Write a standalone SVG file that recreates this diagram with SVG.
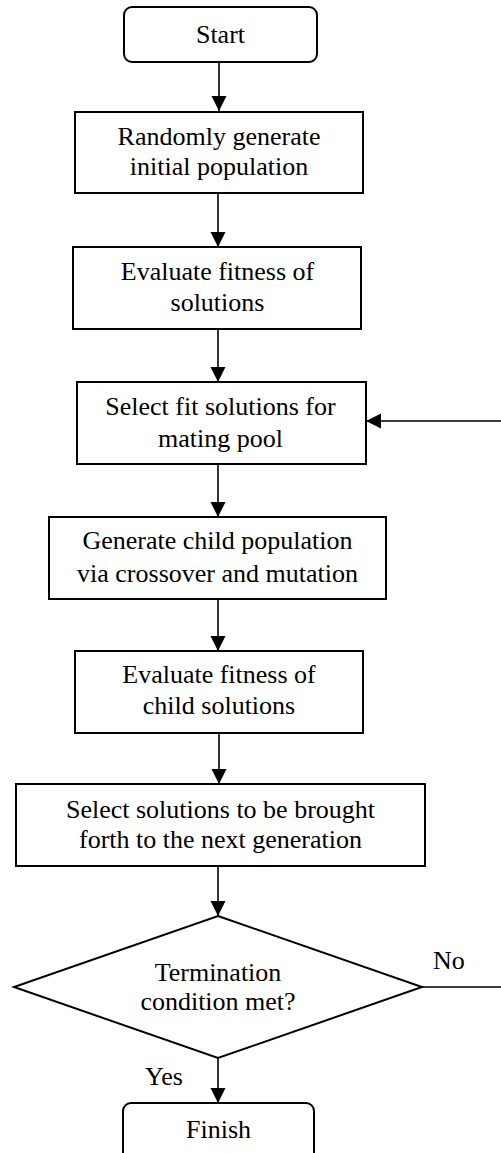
<svg xmlns="http://www.w3.org/2000/svg" width="501" height="1153" viewBox="0 0 501 1153">
  <style>
    .box { fill: #ffffff; stroke: #000000; stroke-width: 2; }
    .lbl { font-family: 'Liberation Serif', 'DejaVu Serif', serif; font-size: 26px; fill: #000000; text-anchor: middle; }
    .tag { font-family: 'Liberation Serif', 'DejaVu Serif', serif; font-size: 26px; fill: #000000; }
    .edge { fill: none; stroke: #000000; stroke-width: 1.6; }
  </style>
  <defs>
    <marker id="arrow" markerUnits="userSpaceOnUse" markerWidth="16" markerHeight="16" refX="15" refY="7.5" orient="auto">
      <path d="M0,0 L15,7.5 L0,15 z" fill="#000000"/>
    </marker>
  </defs>
  <rect width="501" height="1153" fill="#ffffff"/>

  <!-- connectors -->
  <g id="connectors">
    <line class="edge" x1="219" y1="62" x2="219" y2="111" marker-end="url(#arrow)"/>
    <line class="edge" x1="218" y1="193" x2="218" y2="247" marker-end="url(#arrow)"/>
    <line class="edge" x1="218" y1="329" x2="218" y2="382" marker-end="url(#arrow)"/>
    <line class="edge" x1="218" y1="464" x2="218" y2="517" marker-end="url(#arrow)"/>
    <line class="edge" x1="218" y1="599" x2="218" y2="651" marker-end="url(#arrow)"/>
    <line class="edge" x1="219" y1="733" x2="219" y2="784" marker-end="url(#arrow)"/>
    <line class="edge" x1="218" y1="866" x2="218" y2="916" marker-end="url(#arrow)"/>
    <line class="edge" x1="218" y1="1058" x2="218" y2="1103" marker-end="url(#arrow)"/>
    <!-- "No" loop back to the selection step (runs past the right edge) -->
    <polyline class="edge" points="422,987 512,987 512,421 366,421" marker-end="url(#arrow)"/>
    <text class="tag" x="433" y="969" font-family="Liberation Serif">No</text>
    <text class="tag" x="145" y="1085" font-family="Liberation Serif">Yes</text>
  </g>

  <g id="start">
    <rect class="box" x="124" y="7" width="193" height="55" rx="8" ry="8"/>
    <text class="lbl" x="220.5" y="43">Start</text>
  </g>

  <g id="init-population">
    <rect class="box" x="75" y="112" width="288" height="81"/>
    <text class="lbl" x="219" y="145">Randomly generate</text>
    <text class="lbl" x="219" y="175">initial population</text>
  </g>

  <g id="evaluate-fitness">
    <rect class="box" x="73" y="247" width="288" height="82"/>
    <text class="lbl" x="217.5" y="280">Evaluate fitness of</text>
    <text class="lbl" x="217.5" y="311">solutions</text>
  </g>

  <g id="select-mating">
    <rect class="box" x="77" y="382" width="289" height="82"/>
    <text class="lbl" x="220.5" y="415">Select fit solutions for</text>
    <text class="lbl" x="220.5" y="447">mating pool</text>
  </g>

  <g id="generate-children">
    <rect class="box" x="49" y="517" width="337" height="82"/>
    <text class="lbl" x="217.5" y="549">Generate child population</text>
    <text class="lbl" x="217.5" y="582">via crossover and mutation</text>
  </g>

  <g id="evaluate-children">
    <rect class="box" x="75" y="651" width="288" height="82"/>
    <text class="lbl" x="219" y="683">Evaluate fitness of</text>
    <text class="lbl" x="219" y="714">child solutions</text>
  </g>

  <g id="select-next-gen">
    <rect class="box" x="16" y="784" width="409" height="82"/>
    <text class="lbl" x="220.5" y="818">Select solutions to be brought</text>
    <text class="lbl" x="220.5" y="848">forth to the next generation</text>
  </g>

  <g id="termination">
    <polygon class="box" points="218,916 422,987 218,1058 14,987"/>
    <text class="lbl" x="218" y="981">Termination</text>
    <text class="lbl" x="218" y="1010">condition met?</text>
  </g>

  <g id="finish">
    <rect class="box" x="123" y="1103" width="191" height="70" rx="8" ry="8"/>
    <text class="lbl" x="218.5" y="1138">Finish</text>
  </g>
</svg>
